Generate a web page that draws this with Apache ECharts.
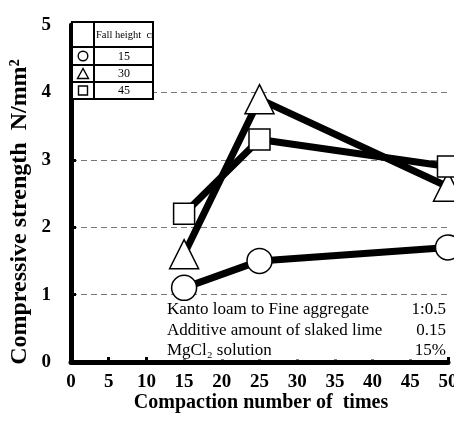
<!DOCTYPE html>
<html>
<head>
<meta charset="utf-8">
<script src="https://cdn.jsdelivr.net/npm/echarts@6/dist/echarts.min.js"></script>
<style>html,body{margin:0;padding:0;background:#fff}#c{width:454px;height:424px}</style>
</head>
<body>
<div id="c"></div>
<script>
var compaction = [15, 25, 50];
var fall15 = [1.1, 1.5, 1.7];
var fall30 = [1.6, 3.9, 2.6];
var fall45 = [2.2, 3.3, 2.9];
var fallHeights = ['15', '30', '45'];
var xTicks = [0, 5, 10, 15, 20, 25, 30, 35, 40, 45, 50];
var yTicks = [0, 1, 2, 3, 4, 5];
var noteLabels = ['Kanto loam to Fine aggregate', 'Additive amount of slaked lime', 'MgCl\u2082 solution'];
var noteValues = ['1:0.5', '0.15', '15%'];
var xTitle = 'Compaction number of  times';
var yTitle = 'Compressive strength  N/mm\u00b2';
var tableHeader = 'Fall height  cm';

var F = '"Liberation Serif", "Times New Roman", serif';
var chart = echarts.init(document.getElementById('c'));

function mk(vals) { return compaction.map(function (x, i) { return [x, vals[i]]; }); }
function series(name, vals, symbol, size) {
  return {
    name: name, type: 'line', data: mk(vals), symbol: symbol, symbolSize: size,
    lineStyle: { color: '#000', width: 7 },
    itemStyle: { color: '#fff', borderColor: '#000', borderWidth: 1.5 },
    z: 5
  };
}

var g = [];
var L = 72, R = 153, M = 94, T = 22;
var rows = [22, 47, 65, 82, 99];
g.push({ type: 'rect', shape: { x: L, y: T, width: R - L, height: rows[4] - T }, style: { fill: '#fff', stroke: '#000', lineWidth: 2 }, z: 50 });
for (var i = 1; i < 4; i++) g.push({ type: 'line', shape: { x1: L, y1: rows[i], x2: R, y2: rows[i] }, style: { stroke: '#000', lineWidth: 2 }, z: 51 });
g.push({ type: 'line', shape: { x1: M, y1: T, x2: M, y2: rows[4] }, style: { stroke: '#000', lineWidth: 2 }, z: 51 });
g.push({ type: 'text', x: 96, y: 35, style: { text: tableHeader, font: '10.5px ' + F, fill: '#000', textVerticalAlign: 'middle' }, z: 52 });
g.push({ type: 'rect', shape: { x: 154, y: 26, width: 10, height: 18 }, style: { fill: '#fff' }, z: 53 });
for (var j = 0; j < 3; j++) {
  var cy = (rows[j + 1] + rows[j + 2]) / 2 + 0.5;
  g.push({ type: 'text', x: 124, y: cy, style: { text: fallHeights[j], font: '12px ' + F, fill: '#000', textAlign: 'center', textVerticalAlign: 'middle' }, z: 52 });
}
g.push({ type: 'circle', shape: { cx: 83, cy: 56, r: 4.8 }, style: { fill: '#fff', stroke: '#000', lineWidth: 1.4 }, z: 52 });
g.push({ type: 'polygon', shape: { points: [[83, 68.5], [77.5, 78.5], [88.5, 78.5]] }, style: { fill: '#fff', stroke: '#000', lineWidth: 1.4 }, z: 52 });
g.push({ type: 'rect', shape: { x: 78.5, y: 86, width: 9, height: 9 }, style: { fill: '#fff', stroke: '#000', lineWidth: 1.4 }, z: 52 });

// notes box (white, hides ticks beneath)
g.push({ type: 'rect', shape: { x: 163, y: 301, width: 283, height: 58.5 }, style: { fill: '#fff' }, z: 40 });
var noteY = [310, 331, 351];
for (var k = 0; k < 3; k++) {
  g.push({ type: 'text', x: 167, y: noteY[k], style: { text: noteLabels[k], font: '17px ' + F, fill: '#000', textVerticalAlign: 'middle' }, z: 41 });
  g.push({ type: 'text', x: 446, y: noteY[k], style: { text: noteValues[k], font: '17px ' + F, fill: '#000', textAlign: 'right', textVerticalAlign: 'middle' }, z: 41 });
}

// axis titles
g.push({ type: 'text', x: 261, y: 403, style: { text: xTitle, font: 'bold 20px ' + F, fill: '#000', textAlign: 'center', textVerticalAlign: 'middle' }, z: 30 });
g.push({ type: 'text', x: 20, y: 212, rotation: Math.PI / 2, style: { text: yTitle, font: 'bold 24px ' + F, fill: '#000', textAlign: 'center', textVerticalAlign: 'middle' }, z: 30 });

chart.setOption({
  animation: false,
  backgroundColor: '#fff',
  grid: { left: 71, right: 6, top: 25, bottom: 62, containLabel: false, outerBoundsMode: 'none' },
  xAxis: {
    type: 'value', min: xTicks[0], max: xTicks[xTicks.length - 1], interval: 5,
    axisLine: { lineStyle: { color: '#000', width: 5, cap: 'round' } },
    axisTick: { inside: true, length: 5, lineStyle: { color: '#000', width: 3 } },
    axisLabel: { margin: 11, fontFamily: F, fontWeight: 'bold', fontSize: 19, color: '#000', showMaxLabel: true, hideOverlap: false },
    splitLine: { show: false }
  },
  yAxis: {
    type: 'value', min: yTicks[0], max: yTicks[yTicks.length - 1], interval: 1,
    axisLine: { lineStyle: { color: '#000', width: 5, cap: 'round' } },
    axisTick: { inside: true, length: 5, lineStyle: { color: '#000', width: 3 } },
    axisLabel: { margin: 20, fontFamily: F, fontWeight: 'bold', fontSize: 19, color: '#000' },
    splitLine: { show: true, showMinLine: false, showMaxLine: false, lineStyle: { color: '#777', type: [6, 4], width: 1 } }
  },
  series: [
    series('15', fall15, 'circle', 25),
    series('30', fall30, 'triangle', 29),
    series('45', fall45, 'rect', 21)
  ],
  graphic: g
});
</script>
</body>
</html>
